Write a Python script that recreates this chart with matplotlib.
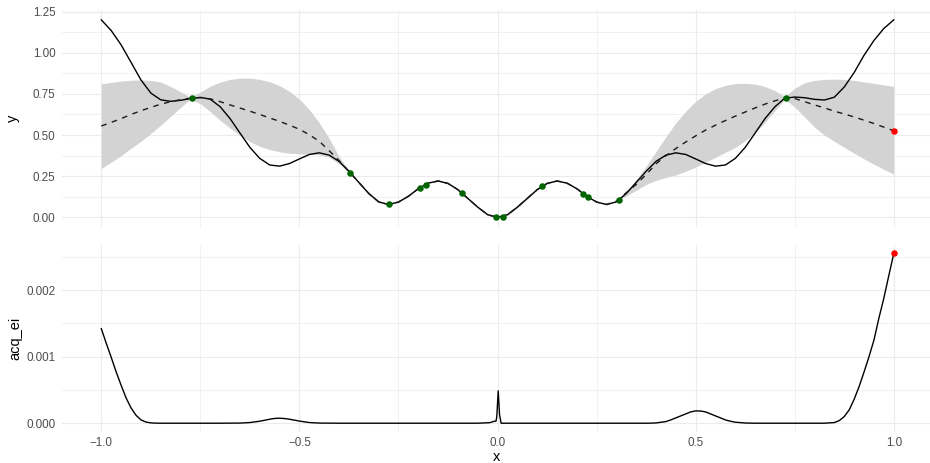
import numpy as np
import matplotlib
matplotlib.use("Agg")
import matplotlib.pyplot as plt
from matplotlib.ticker import MultipleLocator

plt.rcParams["font.family"] = ["Liberation Sans", "DejaVu Sans"]

# --- grid the curves are tabulated on (step 0.025 from -1 to 1) ---
x_grid = np.round(np.arange(-1.0, 1.0001, 0.025), 3)

# true objective
true_y = [
    1.200, 1.135, 1.048, 0.942, 0.835, 0.755, 0.714, 0.705, 0.711, 0.722,
    0.729, 0.718, 0.672, 0.600, 0.512, 0.425, 0.358, 0.318, 0.311, 0.327,
    0.355, 0.382, 0.392, 0.378, 0.340, 0.280, 0.212, 0.145, 0.094, 0.078,
    0.093, 0.128, 0.174, 0.208, 0.221, 0.206, 0.168, 0.115, 0.062, 0.016,
    0.000,
    0.016, 0.062, 0.115, 0.168, 0.206, 0.221, 0.208, 0.174, 0.128, 0.093,
    0.078, 0.094, 0.145, 0.212, 0.280, 0.340, 0.378, 0.392, 0.382, 0.355,
    0.327, 0.311, 0.318, 0.358, 0.425, 0.512, 0.600, 0.672, 0.724, 0.731,
    0.727, 0.717, 0.713, 0.730, 0.792, 0.880, 0.985, 1.075, 1.148, 1.200,
]

# surrogate mean and its band
mean_y = [
    0.555, 0.577, 0.600, 0.625, 0.648, 0.668, 0.688, 0.703, 0.715, 0.724,
    0.727, 0.720, 0.703, 0.683, 0.664, 0.645, 0.625, 0.604, 0.583, 0.560,
    0.535, 0.502, 0.462, 0.405, 0.345, 0.278, 0.212, 0.145, 0.094, 0.078,
    0.093, 0.128, 0.174, 0.208, 0.221, 0.206, 0.168, 0.115, 0.062, 0.016,
    0.000,
    0.016, 0.062, 0.115, 0.168, 0.206, 0.221, 0.208, 0.174, 0.128, 0.093,
    0.078, 0.098, 0.150, 0.200, 0.260, 0.325, 0.375, 0.418, 0.458, 0.495,
    0.530, 0.560, 0.588, 0.615, 0.640, 0.665, 0.688, 0.708, 0.725, 0.722,
    0.703, 0.683, 0.665, 0.645, 0.628, 0.610, 0.590, 0.570, 0.548, 0.526,
]
upper_y = [
    0.811, 0.820, 0.828, 0.833, 0.835, 0.832, 0.822, 0.795, 0.763, 0.730,
    0.762, 0.797, 0.822, 0.838, 0.846, 0.846, 0.838, 0.824, 0.800, 0.765,
    0.718, 0.655, 0.575, 0.480, 0.370, 0.282, 0.216, 0.150, 0.098, 0.080,
    0.096, 0.130, 0.175, 0.209, 0.224, 0.209, 0.170, 0.118, 0.066, 0.020,
    0.001,
    0.021, 0.067, 0.118, 0.170, 0.209, 0.224, 0.210, 0.175, 0.129, 0.096,
    0.081, 0.100, 0.160, 0.230, 0.310, 0.400, 0.490, 0.575, 0.645, 0.705,
    0.750, 0.782, 0.802, 0.813, 0.815, 0.810, 0.795, 0.770, 0.732, 0.785,
    0.818, 0.832, 0.838, 0.840, 0.838, 0.832, 0.823, 0.814, 0.805, 0.795,
]
lower_y = [
    0.297, 0.335, 0.375, 0.420, 0.462, 0.510, 0.560, 0.614, 0.668, 0.718,
    0.690, 0.642, 0.590, 0.542, 0.498, 0.460, 0.432, 0.412, 0.398, 0.390,
    0.386, 0.384, 0.380, 0.365, 0.325, 0.272, 0.204, 0.136, 0.088, 0.076,
    0.090, 0.126, 0.173, 0.206, 0.217, 0.202, 0.166, 0.111, 0.057, 0.012,
    -0.001,
    0.011, 0.056, 0.111, 0.166, 0.203, 0.218, 0.206, 0.173, 0.127, 0.091,
    0.075, 0.095, 0.130, 0.165, 0.200, 0.225, 0.242, 0.258, 0.280, 0.305,
    0.335, 0.365, 0.395, 0.425, 0.465, 0.515, 0.578, 0.648, 0.718, 0.670,
    0.610, 0.548, 0.500, 0.462, 0.425, 0.390, 0.355, 0.322, 0.292, 0.262,
]

# evaluated design points
obs_x = [-0.770, -0.373, -0.273, -0.196, -0.181, -0.089, -0.003, 0.013,
         0.111, 0.216, 0.228, 0.306, 0.727]
obs_y = [0.724, 0.271, 0.079, 0.176, 0.199, 0.146, 0.000, 0.002,
         0.188, 0.142, 0.123, 0.103, 0.727]

# expected improvement
acq_x = [-1.0, -0.9875, -0.975, -0.9625, -0.95, -0.9375, -0.925, -0.9125, -0.9, -0.8875,
         -0.875, -0.8625, -0.85, -0.7, -0.65, -0.625, -0.6, -0.5875, -0.575, -0.5625,
         -0.55, -0.5375, -0.525, -0.5125, -0.5, -0.475, -0.45, -0.4, -0.05, -0.02,
         -0.008, -0.004, -0.002, 0.0017, 0.005, 0.009, 0.05, 0.38, 0.4, 0.425,
         0.4375, 0.45, 0.4625, 0.475, 0.4875, 0.5, 0.5125, 0.525, 0.5375, 0.55,
         0.5625, 0.575, 0.5875, 0.6, 0.625, 0.65, 0.825, 0.85, 0.8625, 0.875,
         0.8875, 0.9, 0.9125, 0.925, 0.9375, 0.95, 0.9625, 0.975, 0.9875, 1.0]
acq_ei = [0.00142, 0.00120, 0.00099, 0.00077, 0.00057, 0.00038, 0.00023, 0.00012, 0.00005, 0.000018,
          0.000005, 0.000001, 0.0, 0.0, 0.000002, 0.00001, 0.00003, 0.000045, 0.00006, 0.000072,
          0.000075, 0.00007, 0.00006, 0.000046, 0.000032, 0.00001, 0.000002, 0.0, 0.0, 0.000008,
          0.00003, 0.00003, 0.00009, 0.000486, 0.00013, 0.0, 0.0, 0.0, 0.000004, 0.000025,
          0.00005, 0.00008, 0.00011, 0.00014, 0.00017, 0.000185, 0.000183, 0.00017, 0.00014, 0.00011,
          0.00008, 0.00005, 0.00003, 0.000015, 0.000003, 0.0, 0.0, 0.00001, 0.00004, 0.00010,
          0.00020, 0.00036, 0.00055, 0.00077, 0.00100, 0.00125, 0.00158, 0.00188, 0.00222, 0.00255]

# next candidate = argmax of the acquisition
i_next = int(np.argmax(acq_ei))
x_next = acq_x[i_next]
y_next = float(np.interp(x_next, x_grid, mean_y))
ei_next = acq_ei[i_next]

GRID = "#EBEBEB"
TICK = "#4D4D4D"

fig = plt.figure(figsize=(9.3, 4.63), dpi=100)
W, H = 930.0, 463.0
ax_top = fig.add_axes([61.7 / W, 1 - 227.2 / H, (933.4 - 61.7) / W, (227.2 - 10) / H])
ax_bot = fig.add_axes([61.7 / W, 1 - 431.7 / H, (933.4 - 61.7) / W, (431.7 - 245) / H])


def style(ax):
    for s in ax.spines.values():
        s.set_visible(False)
    ax.set_axisbelow(True)
    ax.grid(which="major", color=GRID, lw=0.85)
    ax.grid(which="minor", color=GRID, lw=0.5)
    ax.tick_params(which="both", length=0, labelsize=8.4, labelcolor=TICK)
    ax.tick_params(axis="y", pad=4.5)
    ax.tick_params(axis="x", pad=3.5)
    ax.xaxis.set_major_locator(MultipleLocator(0.5))
    ax.xaxis.set_minor_locator(MultipleLocator(0.25))
    ax.set_xlim(-1.1, 1.1)


# --- top panel: objective, surrogate and observations ---
style(ax_top)
ax_top.fill_between(x_grid, lower_y, upper_y, color="#D3D3D3", lw=0)
ax_top.plot(x_grid, true_y, color="black", lw=1.0)
ax_top.plot(x_grid, mean_y, color="#1a1a1a", lw=1.0, dashes=(4, 4))
ax_top.scatter(obs_x, obs_y, s=22, color="#006400", zorder=5, lw=0)
ax_top.scatter([x_next], [y_next], s=22, color="red", zorder=5, lw=0)
ax_top.set_ylim(-0.06, 1.26)
ax_top.yaxis.set_minor_locator(MultipleLocator(0.125))
ax_top.set_yticks([0, 0.25, 0.5, 0.75, 1.0, 1.25])
ax_top.set_yticklabels(["0.00", "0.25", "0.50", "0.75", "1.00", "1.25"])
ax_top.tick_params(axis="x", labelbottom=False)

# --- bottom panel: expected improvement ---
style(ax_bot)
ax_bot.plot(acq_x, acq_ei, color="black", lw=1.0)
ax_bot.scatter([x_next], [ei_next], s=22, color="red", zorder=5, lw=0)
ax_bot.set_ylim(-0.0001275, 0.0026775)
ax_bot.set_yticks([0, 0.001, 0.002])
ax_bot.set_yticklabels(["0.000", "0.001", "0.002"])
ax_bot.yaxis.set_minor_locator(MultipleLocator(0.0005))
ax_bot.set_xticks([-1.0, -0.5, 0.0, 0.5, 1.0])
ax_bot.set_xticklabels(["\u22121.0", "\u22120.5", "0.0", "0.5", "1.0"])

# axis titles
fig.text(13 / W, 1 - 118 / H, "y", rotation=90, ha="center", va="center", fontsize=10.5)
fig.text(15 / W, 1 - 338 / H, "acq_ei", rotation=90, ha="center", va="center", fontsize=10.5)
fig.text(497 / W, 1 - 457 / H, "x", ha="center", va="center", fontsize=10.5)

fig.savefig("out.png", dpi=100)
